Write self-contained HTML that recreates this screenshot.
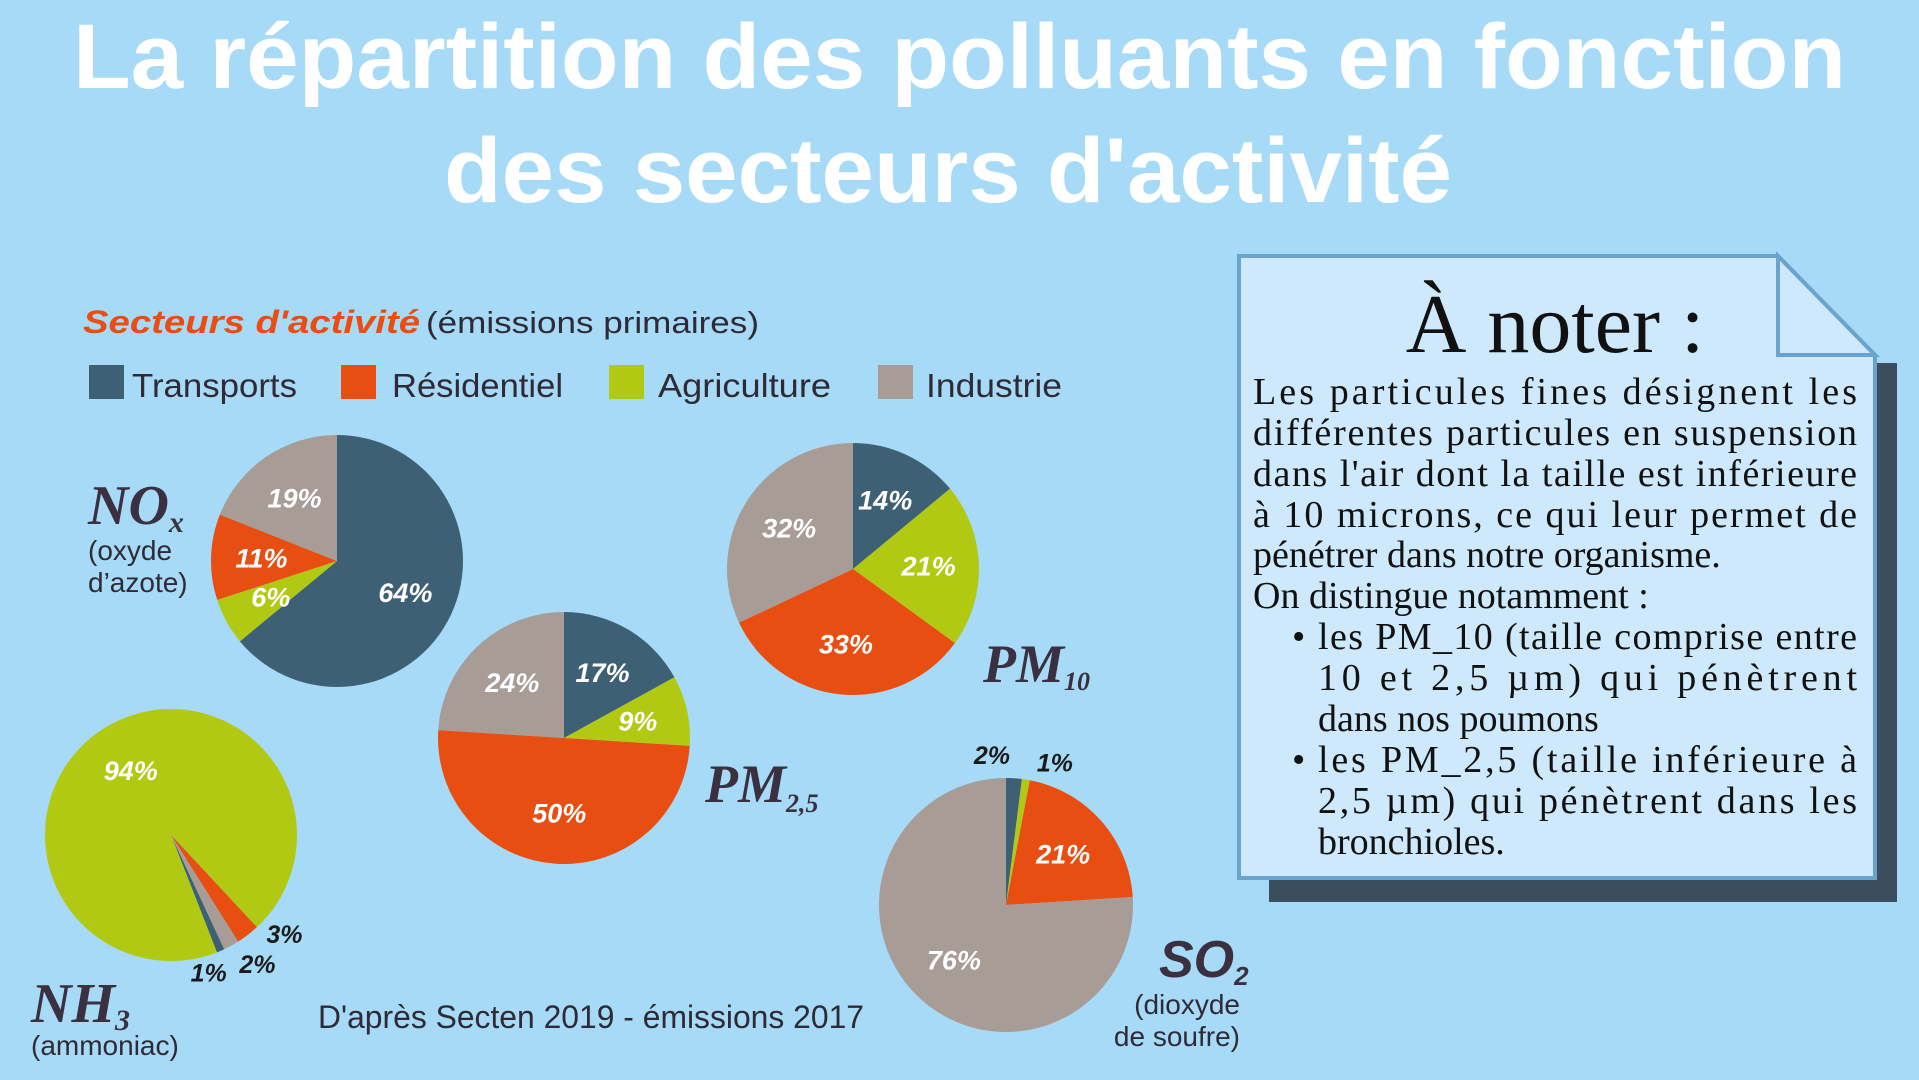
<!DOCTYPE html>
<html><head><meta charset="utf-8">
<style>
html,body{margin:0;padding:0;background:#a6daf6;}
svg{display:block;}
</style></head>
<body>
<svg id="chart" width="1919" height="1080" viewBox="0 0 1919 1080" xmlns="http://www.w3.org/2000/svg">
<rect x="0" y="0" width="1919" height="1080" fill="#a6daf6"/>
<g font-family="'Liberation Sans', sans-serif" font-weight="bold" fill="#ffffff" font-size="92">
<text x="73" y="88" textLength="1773" lengthAdjust="spacingAndGlyphs">La répartition des polluants en fonction</text>
<text x="444" y="202" textLength="1008" lengthAdjust="spacingAndGlyphs">des secteurs d'activité</text>
</g>

<g font-family="'Liberation Sans', sans-serif">
<text x="83" y="333" font-size="32" font-weight="bold" font-style="italic" fill="#e84e12" textLength="337" lengthAdjust="spacingAndGlyphs">Secteurs d'activité</text>
<text x="426" y="333" font-size="31" fill="#2f2a35" textLength="333" lengthAdjust="spacingAndGlyphs">(émissions primaires)</text>
<rect x="89" y="365" width="35" height="34" fill="#3d6075"/>
<text x="132" y="397" font-size="33" fill="#2f2a35" textLength="165" lengthAdjust="spacingAndGlyphs">Transports</text>
<rect x="341" y="365" width="35" height="34" fill="#e84e12"/>
<text x="392" y="397" font-size="33" fill="#2f2a35" textLength="171" lengthAdjust="spacingAndGlyphs">Résidentiel</text>
<rect x="609" y="365" width="35" height="34" fill="#b2c914"/>
<text x="658" y="397" font-size="33" fill="#2f2a35" textLength="173" lengthAdjust="spacingAndGlyphs">Agriculture</text>
<rect x="878" y="365" width="35" height="34" fill="#a89c96"/>
<text x="926" y="397" font-size="33" fill="#2f2a35" textLength="136" lengthAdjust="spacingAndGlyphs">Industrie</text>
</g>

<g id="pies"></g>

<g font-family="'Liberation Serif', serif" font-weight="bold" font-style="italic" fill="#3a3040">
<text x="88" y="524" font-size="56">NO<tspan font-size="30" dy="8">x</tspan></text>
<text x="983" y="682" font-size="54">PM<tspan font-size="26" dy="8">10</tspan></text>
<text x="705" y="802" font-size="54">PM<tspan font-size="26" dy="10">2,5</tspan></text>
<text x="1159" y="977" font-size="52" font-family="'Liberation Sans', sans-serif">SO<tspan font-size="26" dy="8">2</tspan></text>
<text x="31" y="1022" font-size="56">NH<tspan font-size="30" dy="8">3</tspan></text>
</g>
<g font-family="'Liberation Sans', sans-serif" font-size="28" fill="#2f2a35">
<text x="88" y="560">(oxyde</text>
<text x="88" y="592">d’azote)</text>
<text x="1240" y="1014" text-anchor="end">(dioxyde</text>
<text x="1240" y="1046" text-anchor="end">de soufre)</text>
<text x="31" y="1055">(ammoniac)</text>
</g>
<text x="318" y="1028" font-family="'Liberation Sans', sans-serif" font-size="32" fill="#2f2a35" textLength="546" lengthAdjust="spacingAndGlyphs">D'après Secten 2019 - émissions 2017</text>

<g>
<polygon points="1269,363 1897,363 1897,902 1269,902" fill="#3c4e5e"/>
<polygon points="1239,256 1778,256 1875,355 1875,878 1239,878" fill="#cde9fb" stroke="#6aa3cd" stroke-width="4"/>
<polygon points="1778,256 1778,355 1875,355" fill="#cde9fb" stroke="#6aa3cd" stroke-width="4"/>
<text x="1555" y="352" text-anchor="middle" font-family="'Liberation Serif', serif" font-size="84" fill="#111">À noter :</text>
<g font-family="'Liberation Serif', serif" font-size="38" fill="#111">
<text x="1253" y="404" textLength="604" lengthAdjust="spacing">Les particules fines désignent les</text>
<text x="1253" y="445" textLength="604" lengthAdjust="spacing">différentes particules en suspension</text>
<text x="1253" y="486" textLength="604" lengthAdjust="spacing">dans l'air dont la taille est inférieure</text>
<text x="1253" y="527" textLength="604" lengthAdjust="spacing">à 10 microns, ce qui leur permet de</text>
<text x="1253" y="567">pénétrer dans notre organisme.</text>
<text x="1253" y="608">On distingue notamment  :</text>
<text x="1292" y="649">•</text>
<text x="1318" y="649" textLength="539" lengthAdjust="spacing">les PM_10 (taille comprise entre</text>
<text x="1318" y="690" textLength="539" lengthAdjust="spacing">10 et 2,5 µm) qui  pénètrent</text>
<text x="1318" y="731">dans nos poumons</text>
<text x="1292" y="772">•</text>
<text x="1318" y="772" textLength="539" lengthAdjust="spacing">les PM_2,5 (taille inférieure à</text>
<text x="1318" y="813" textLength="539" lengthAdjust="spacing">2,5 µm) qui pénètrent dans les</text>
<text x="1318" y="854">bronchioles.</text>
</g>
</g>
</svg>
<script>
// categories (legend order)
const categories = ['Transports', 'Résidentiel', 'Agriculture', 'Industrie'];
// values per pollutant, legend order: Transports, Résidentiel, Agriculture, Industrie
const noxValues = [64, 11, 6, 19];
const pm10Values = [14, 33, 21, 32];
const pm25Values = [17, 50, 9, 24];
const so2Values = [2, 21, 1, 76];
const nh3Values = [1, 3, 94, 2];

const colors = ['#3d6075', '#e84e12', '#b2c914', '#a89c96'];
const drawOrder = [0, 2, 1, 3]; // clockwise: Transports, Agriculture, Résidentiel, Industrie
const NS = 'http://www.w3.org/2000/svg';
const pies = [
  {name: 'nox', values: noxValues, cx: 337, cy: 561, r: 126, start: 0, adj: {}},
  {name: 'pm10', values: pm10Values, cx: 853, cy: 569, r: 126, start: 0, adj: {}},
  {name: 'pm25', values: pm25Values, cx: 564, cy: 738, r: 126, start: 0, adj: {}},
  {name: 'so2', values: so2Values, cx: 1006, cy: 905, r: 127, start: 0, adj: {0: [-9, 1.18], 2: [10, 1.18]}},
  {name: 'nh3', values: nh3Values, cx: 171, cy: 835, r: 126, start: 155, adj: {1: [-11, 1.2], 3: [-5, 1.24], 0: [8, 1.14]}}
];
function pt(cx, cy, r, deg) {
  const a = deg * Math.PI / 180;
  return [cx + r * Math.sin(a), cy - r * Math.cos(a)];
}
const root = document.getElementById('pies');
pies.forEach(p => {
  const g = document.createElementNS(NS, 'g');
  
  
  root.appendChild(g);
  const total = p.values.reduce((a, b) => a + b, 0);
  let ang = p.start;
  drawOrder.forEach(i => {
    const v = p.values[i];
    const sweep = v / total * 360;
    const a0 = ang, a1 = ang + sweep;
    const [x0, y0] = pt(p.cx, p.cy, p.r, a0);
    const [x1, y1] = pt(p.cx, p.cy, p.r, a1);
    const path = document.createElementNS(NS, 'path');
    path.setAttribute('d', `M${p.cx},${p.cy} L${x0},${y0} A${p.r},${p.r} 0 ${sweep > 180 ? 1 : 0} 1 ${x1},${y1} Z`);
    path.setAttribute('fill', colors[i]);
    
    
    g.appendChild(path);
    ang = a1;
  });
  ang = p.start;
  drawOrder.forEach(i => {
    const v = p.values[i];
    const sweep = v / total * 360;
    let mid = ang + sweep / 2;
    let rf = v < 5 ? 1.2 : 0.6;
    if (p.adj[i]) { mid += p.adj[i][0]; rf = p.adj[i][1]; }
    const [lx, ly] = pt(p.cx, p.cy, p.r * rf, mid);
    const t = document.createElementNS(NS, 'text');
    t.setAttribute('x', lx);
    t.setAttribute('y', ly);
    t.setAttribute('text-anchor', 'middle');
    t.setAttribute('dominant-baseline', 'central');
    t.setAttribute('font-family', "'Liberation Sans', sans-serif");
    t.setAttribute('font-weight', 'bold');
    t.setAttribute('font-style', 'italic');
    t.setAttribute('font-size', v < 5 ? '25' : '27');
    t.setAttribute('fill', v < 5 ? '#1a1a1a' : '#ffffff');
    t.textContent = v + '%';
    
    
    g.appendChild(t);
    ang += sweep;
  });
});
</script>
</body></html>
